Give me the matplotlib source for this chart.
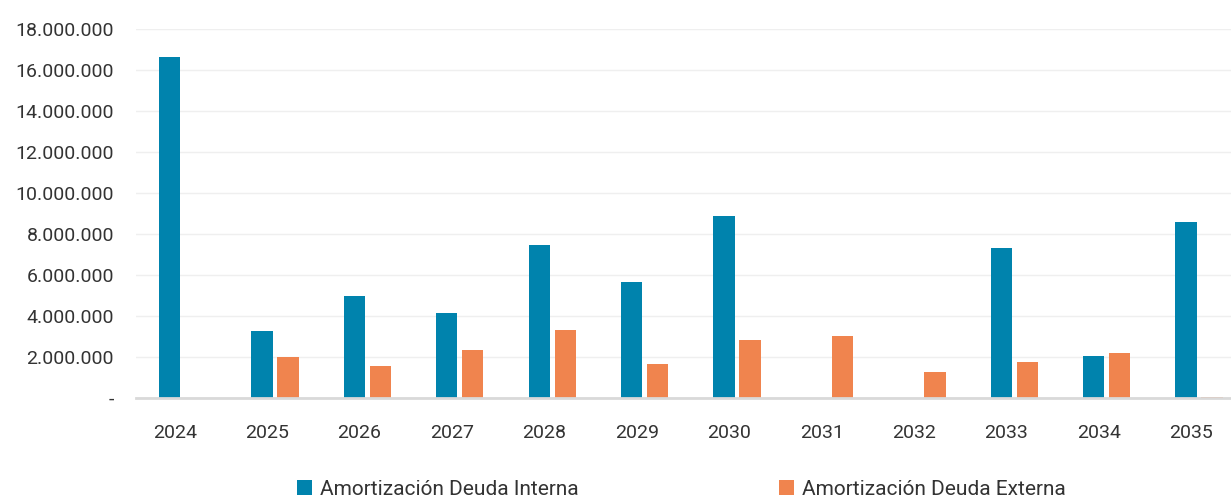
import numpy as np
import matplotlib
matplotlib.use("Agg")
import matplotlib.pyplot as plt
from matplotlib.ticker import FuncFormatter

plt.rcParams['font.family'] = ['Roboto', 'DejaVu Sans']

years = ['2024', '2025', '2026', '2027', '2028', '2029',
         '2030', '2031', '2032', '2033', '2034', '2035']
interna = [16630000, 3270000, 4980000, 4150000, 7460000, 5660000,
           8880000, 0, 0, 7320000, 2050000, 8590000]
externa = [0, 2000000, 1560000, 2340000, 3320000, 1660000,
           2830000, 3040000, 1250000, 1760000, 2200000, 50000]
labels = ['Amortización Deuda Interna', 'Amortización Deuda Externa']

blue = '#0083AD'
orange = '#F0844E'

fig = plt.figure(figsize=(12.31, 4.98), dpi=100)
# plot area runs a bit past the right edge, like the original
ax = fig.add_axes([136.3/1231, 1-398/498, 1109/1231, (398-29)/498])

x = np.arange(len(years))
w = 0.23
off = 0.141
ax.bar(x - off, interna, w, color=blue, label=labels[0], zorder=3)
ax.bar(x + off, externa, w, color=orange, label=labels[1], zorder=3)

ax.set_xlim(-0.5, len(years) - 0.5)
ax.set_ylim(0, 18000000)
ax.set_yticks(np.arange(0, 18000001, 2000000))

def fmt(v, pos):
    if v == 0:
        return '-'
    return f'{int(v):,}'.replace(',', '.')

ax.yaxis.set_major_formatter(FuncFormatter(fmt))
# year labels sit slightly left of the group centre in the original
ax.set_xticks(x - 0.085)
ax.set_xticklabels(years)

ax.grid(axis='y', color='#EFEFEF', linewidth=1, zorder=0)
for s in ['top', 'right', 'left']:
    ax.spines[s].set_visible(False)
ax.spines['bottom'].set_color('#D9D9D9')
ax.spines['bottom'].set_linewidth(2)
ax.spines['bottom'].set_zorder(4)

ax.tick_params(axis='both', length=0, labelsize=14, colors='#333333')
ax.tick_params(axis='y', pad=16)
ax.tick_params(axis='x', pad=19)

fig.legend(loc='center', bbox_to_anchor=(681.5/1231, 1-489/498), ncol=2,
           frameon=False, fontsize=15, handlelength=0.7, handleheight=0.7,
           handletextpad=0.4, columnspacing=9.6, labelcolor='#333333')

fig.savefig('out.png', dpi=100)
